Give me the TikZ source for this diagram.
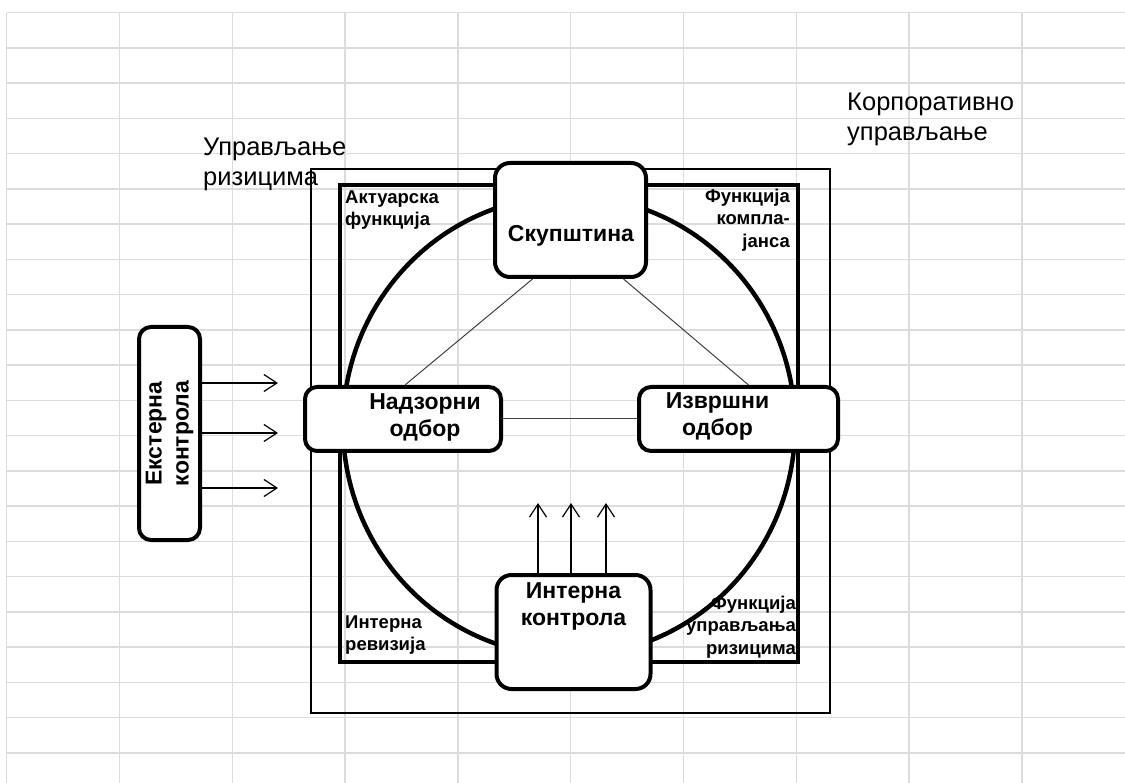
\documentclass[tikz,border=0pt]{standalone}
\usepackage{fontspec}
\setmainfont{Liberation Sans}
\usetikzlibrary{arrows.meta,calc}
\definecolor{gridc}{HTML}{DCDCDC}
\definecolor{connc}{HTML}{404040}
\tikzset{
  gridline/.style={gridc, line width=1.5pt},
  frame/.style={line width=1.5pt},
  thickframe/.style={line width=4.5pt},
  box/.style={draw, line width=4pt, fill=white, inner sep=0pt, rounded corners=15pt},
  smallbox/.style={box, rounded corners=12pt},
  conn/.style={connc, line width=1pt},
  arr/.style={line width=1.2pt, -{Straight Barb[length=13pt,width=17pt]}},
  boxtext/.style={font=\fontsize{23}{27}\selectfont\bfseries, align=center, inner sep=0pt},
  cornertext/.style={font=\fontsize{18.5}{22.5}\selectfont\bfseries, inner sep=0pt},
  titletext/.style={font=\fontsize{25.5}{30}\selectfont, align=left, inner sep=0pt, anchor=west}
}
\begin{document}
\begin{tikzpicture}[x=1pt,y=-1pt]
\useasboundingbox (0,0) rectangle (1125,783);
\fill[white] (0,0) rectangle (1125,783);
% spreadsheet grid
\foreach \i in {0,...,9} \draw[gridline] ({6.7+112.8*\i},12.7) -- ({6.7+112.8*\i},783);
\foreach \j in {0,...,21} \draw[gridline] (6.7,{12.7+35.25*\j}) -- (1125,{12.7+35.25*\j});

% frames
\draw[frame] (311,169) rectangle (830,713);
\draw[thickframe] (340,185) rectangle (798,662);
\draw[thickframe] (569,426) ellipse [x radius=226, y radius=230];

% titles
\node[titletext] (t1) at (203,164) {Управљање\\ризицима};
\node[titletext] (t2) at (847,119) {Корпоративно\\управљање};

% boxes
\node[box, minimum width=151pt, minimum height=114pt] (sk) at (570.5,220) {};
\node[smallbox, minimum width=196pt, minimum height=64pt] (nad) at (403,419) {};
\node[smallbox, minimum width=199pt, minimum height=64pt] (izv) at (738.5,419) {};
\node[box, minimum width=154pt, minimum height=114pt] (ik) at (573.5,632) {};
\node[smallbox, minimum width=61pt, minimum height=213pt] (ext) at (169.5,433.5) {};

% connectors between boxes
\draw[conn] ($(sk.south)+(-38,0)$) -- ($(nad.north)+(2,0)$);
\draw[conn] ($(sk.south)+(53,0)$) -- ($(izv.north)+(10,0)$);
\draw[conn] (nad.east) -- (izv.west);

% box texts
\node[boxtext] (skt) at ($(sk.center)+(0.5,16)$) {Скупштина};
\node[boxtext] (nadt) at ($(nad.center)+(22,-2)$) {Надзорни\\одбор};
\node[boxtext] (izvt) at ($(izv.center)+(-21,-3)$) {Извршни\\одбор};
\node[boxtext] (ikt) at ($(ik.center)+(0,-26)$) {Интерна\\контрола};
\node[boxtext, rotate=90] (extt) at (ext.center) {Екстерна\\контрола};

% corner texts
\node[cornertext, anchor=west, align=left] (c1) at (345,210) {Актуарска\\функција};
\node[cornertext, anchor=east, align=right] (c2) at (790,220) {Функција\\компла-\\јанса};
\node[cornertext, anchor=west, align=left] (c3) at (345,635) {Интерна\\ревизија};
\node[cornertext, anchor=east, align=right] (c4) at (796,627) {Функција\\управљања\\ризицима};

% arrows from external control
\coordinate (a1) at (278,383);
\coordinate (a2) at (278,433);
\coordinate (a3) at (278,488);
\draw[arr] (ext.east |- a1) -- (a1);
\draw[arr] (ext.east |- a2) -- (a2);
\draw[arr] (ext.east |- a3) -- (a3);

% arrows from internal control
\coordinate (u1) at (538,503);
\coordinate (u2) at (571,503);
\coordinate (u3) at (606,503);
\draw[arr] (ik.north -| u1) -- (u1);
\draw[arr] (ik.north -| u2) -- (u2);
\draw[arr] (ik.north -| u3) -- (u3);
\end{tikzpicture}
\end{document}
